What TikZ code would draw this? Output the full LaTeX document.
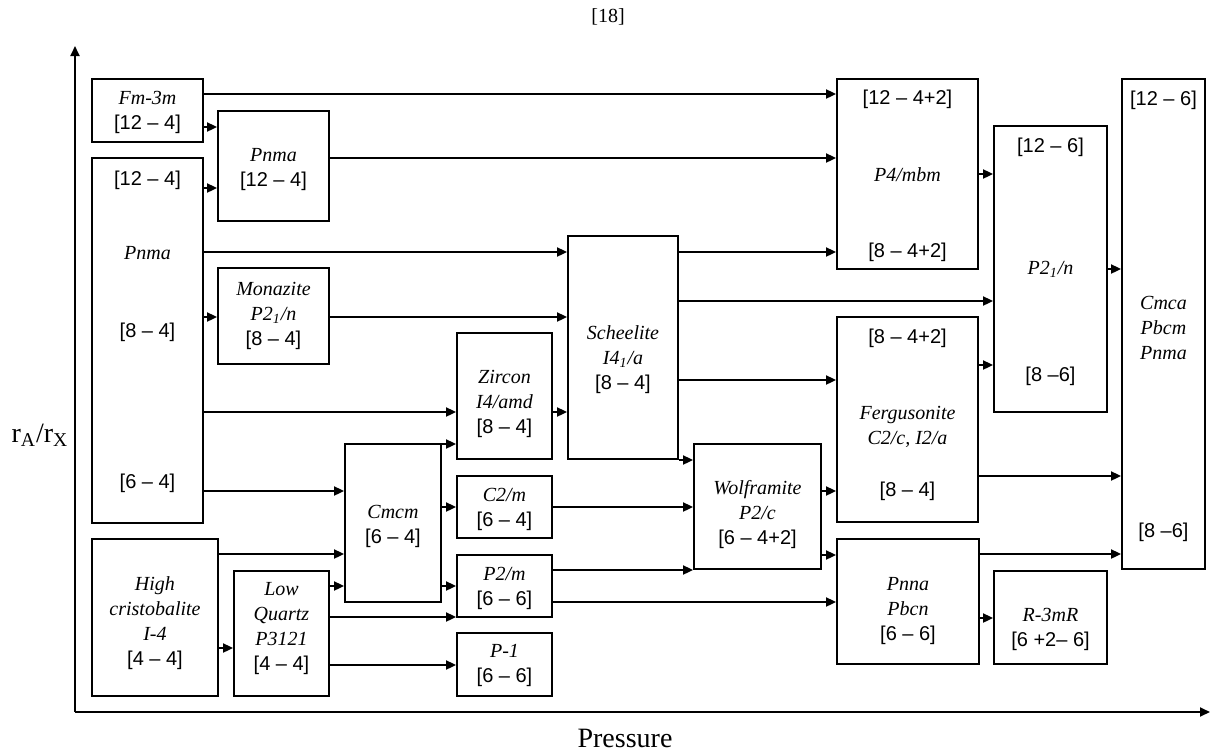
\documentclass[tikz,border=0pt]{standalone}
\usepackage{fontspec}
\setmainfont{Liberation Serif}
\setsansfont{Liberation Sans}
\usetikzlibrary{arrows.meta,fit}

\tikzset{
  phase/.style={draw, line width=0.9pt, inner sep=0pt},
  txt/.style={align=center, font=\fontsize{10}{12.5}\selectfont, inner sep=0pt},
  arr/.style={-{Triangle[length=5pt,width=4.5pt]}, line width=0.9pt},
}
\newcommand{\nm}[1]{\textit{#1}}
\newcommand{\cn}[1]{\textsf{#1}}

\begin{document}
\begin{tikzpicture}[x=0.5pt,y=-0.5pt]
    \useasboundingbox (0,0) rectangle (1217,751);

    % axes
    \coordinate (o) at (75,712);
    \coordinate (ytop) at (75,46);
    \coordinate (xend) at (1210,712);
    \draw[arr] (o) -- (ytop);
    \draw[arr] (o) -- (xend);
    \node[font=\fontsize{10}{12}\selectfont] (ref) at (608,17) {[18]};
    \node[font=\fontsize{14}{16}\selectfont] (xlab) at (625,738) {Pressure};
    \node[font=\fontsize{14}{16}\selectfont] (ylab) at (40,435) {r\textsubscript{A}/r\textsubscript{X}};

    % phase boxes
    \node[phase, fit={(92,79) (203,142)}] (fm) {};
    \node[phase, fit={(218,111) (329,221)}] (pnmaA) {};
    \node[phase, fit={(92,158) (203,523)}] (pnmaB) {};
    \node[phase, fit={(218,268) (329,364)}] (mona) {};
    \node[phase, fit={(92,539) (218,696)}] (hc) {};
    \node[phase, fit={(234,571) (329,696)}] (lq) {};
    \node[phase, fit={(345,444) (441,602)}] (cmcm) {};
    \node[phase, fit={(457,333) (552,459)}] (zircon) {};
    \node[phase, fit={(457,476) (552,538)}] (c2m) {};
    \node[phase, fit={(457,555) (552,617)}] (p2m) {};
    \node[phase, fit={(457,633) (552,696)}] (p1) {};
    \node[phase, fit={(568,236) (678,459)}] (sch) {};
    \node[phase, fit={(694,444) (821,569)}] (wolf) {};
    \node[phase, fit={(837,79) (978,269)}] (p4) {};
    \node[phase, fit={(837,317) (978,522)}] (ferg) {};
    \node[phase, fit={(837,539) (979,664)}] (pnna) {};
    \node[phase, fit={(994,126) (1107,412)}] (p21n) {};
    \node[phase, fit={(994,571) (1107,664)}] (rm) {};
    \node[phase, fit={(1122,79) (1205,569)}] (cmca) {};

    % texts
    \node[txt] (fm-t) at (147.5,112.5) {\nm{Fm-3m}\\\cn{[12 – 4]}};
    \node[txt] (pnmaA-t) at (273.5,169.5) {\nm{Pnma}\\\cn{[12 – 4]}};
    \node[txt] (pnmaB-a) at (147.5,180) {\cn{[12 – 4]}};
    \node[txt] (pnmaB-b) at (147.5,253) {\nm{Pnma}};
    \node[txt] (pnmaB-c) at (147.5,332) {\cn{[8 – 4]}};
    \node[txt] (pnmaB-d) at (147.5,483) {\cn{[6 – 4]}};
    \node[txt] (mona-t) at (273.5,316) {\nm{Monazite}\\\nm{P2\textsubscript{1}/n}\\\cn{[8 – 4]}};
    \node[txt] (hc-t) at (155,623) {\nm{High}\\\nm{cristobalite}\\\nm{I-4}\\\cn{[4 – 4]}};
    \node[txt] (lq-t) at (281.5,628.5) {\nm{Low}\\\nm{Quartz}\\\nm{P3121}\\\cn{[4 – 4]}};
    \node[txt] (cmcm-t) at (393,526.5) {\nm{Cmcm}\\\cn{[6 – 4]}};
    \node[txt] (zircon-t) at (504.5,404) {\nm{Zircon}\\\nm{I4/amd}\\\cn{[8 – 4]}};
    \node[txt] (c2m-t) at (504.5,509) {\nm{C2/m}\\\cn{[6 – 4]}};
    \node[txt] (p2m-t) at (504.5,588) {\nm{P2/m}\\\cn{[6 – 6]}};
    \node[txt] (p1-t) at (504.5,665.5) {\nm{P-1}\\\cn{[6 – 6]}};
    \node[txt] (sch-t) at (623,359.5) {\nm{Scheelite}\\\nm{I4\textsubscript{1}/a}\\\cn{[8 – 4]}};
    \node[txt] (wolf-t) at (757.5,515) {\nm{Wolframite}\\\nm{P2/c}\\\cn{[6 – 4+2]}};
    \node[txt] (p4-a) at (907.5,99) {\cn{[12 – 4+2]}};
    \node[txt] (p4-b) at (907.5,175) {\nm{P4/mbm}};
    \node[txt] (p4-c) at (907.5,252) {\cn{[8 – 4+2]}};
    \node[txt] (ferg-a) at (907.5,338) {\cn{[8 – 4+2]}};
    \node[txt] (ferg-b) at (907.5,427) {\nm{Fergusonite}\\\nm{C2/c, I2/a}};
    \node[txt] (ferg-c) at (907.5,491) {\cn{[8 – 4]}};
    \node[txt] (pnna-t) at (908,611) {\nm{Pnna}\\\nm{Pbcn}\\\cn{[6 – 6]}};
    \node[txt] (p21n-a) at (1050.5,147) {\cn{[12 – 6]}};
    \node[txt] (p21n-b) at (1050.5,269) {\nm{P2\textsubscript{1}/n}};
    \node[txt] (p21n-c) at (1050.5,376) {\cn{[8 –6]}};
    \node[txt] (rm-t) at (1050.5,629) {\nm{R-3mR}\\\cn{[6 +2– 6]}};
    \node[txt] (cmca-a) at (1163.5,100) {\cn{[12 – 6]}};
    \node[txt] (cmca-b) at (1163.5,328) {\nm{Cmca}\\\nm{Pbcm}\\\nm{Pnma}};
    \node[txt] (cmca-c) at (1163.5,532) {\cn{[8 –6]}};

    % transitions
    \draw[arr] (fm.east |- 0,94) -- (p4.west |- 0,94);
    \draw[arr] (fm.east |- 0,127) -- (pnmaA.west |- 0,127);
    \draw[arr] (pnmaB.east |- 0,188) -- (pnmaA.west |- 0,188);
    \draw[arr] (pnmaA.east |- 0,158) -- (p4.west |- 0,158);
    \draw[arr] (pnmaB.east |- 0,252) -- (sch.west |- 0,252);
    \draw[arr] (sch.east |- 0,252) -- (p4.west |- 0,252);
    \draw[arr] (pnmaB.east |- 0,317) -- (mona.west |- 0,317);
    \draw[arr] (mona.east |- 0,317) -- (sch.west |- 0,317);
    \draw[arr] (pnmaB.east |- 0,412) -- (zircon.west |- 0,412);
    \draw[arr] (pnmaB.east |- 0,491) -- (cmcm.west |- 0,491);
    \draw[arr] (hc.east |- 0,554) -- (cmcm.west |- 0,554);
    \draw[arr] (hc.east |- 0,648) -- (lq.west |- 0,648);
    \draw[arr] (lq.east |- 0,586) -- (cmcm.west |- 0,586);
    \draw[arr] (lq.east |- 0,617) -- (p2m.west |- 0,617);
    \draw[arr] (lq.east |- 0,665) -- (p1.west |- 0,665);
    \draw[arr] (cmcm.east |- 0,444) -- (zircon.west |- 0,444);
    \draw[arr] (cmcm.east |- 0,507) -- (c2m.west |- 0,507);
    \draw[arr] (cmcm.east |- 0,586) -- (p2m.west |- 0,586);
    \draw[arr] (zircon.east |- 0,412) -- (sch.west |- 0,412);
    \draw[arr] (c2m.east |- 0,507) -- (wolf.west |- 0,507);
    \draw[arr] (p2m.east |- 0,570) -- (wolf.west |- 0,570);
    \draw[arr] (p2m.east |- 0,602) -- (pnna.west |- 0,602);
    \draw[arr] (sch.east |- 0,460) -- (wolf.west |- 0,460);
    \draw[arr] (sch.east |- 0,301) -- (p21n.west |- 0,301);
    \draw[arr] (sch.east |- 0,380) -- (ferg.west |- 0,380);
    \draw[arr] (wolf.east |- 0,491) -- (ferg.west |- 0,491);
    \draw[arr] (wolf.east |- 0,555) -- (pnna.west |- 0,555);
    \draw[arr] (p4.east |- 0,174) -- (p21n.west |- 0,174);
    \draw[arr] (ferg.east |- 0,365) -- (p21n.west |- 0,365);
    \draw[arr] (p21n.east |- 0,269) -- (cmca.west |- 0,269);
    \draw[arr] (ferg.east |- 0,476) -- (cmca.west |- 0,476);
    \draw[arr] (pnna.east |- 0,554) -- (cmca.west |- 0,554);
    \draw[arr] (pnna.east |- 0,618) -- (rm.west |- 0,618);
\end{tikzpicture}
\end{document}
